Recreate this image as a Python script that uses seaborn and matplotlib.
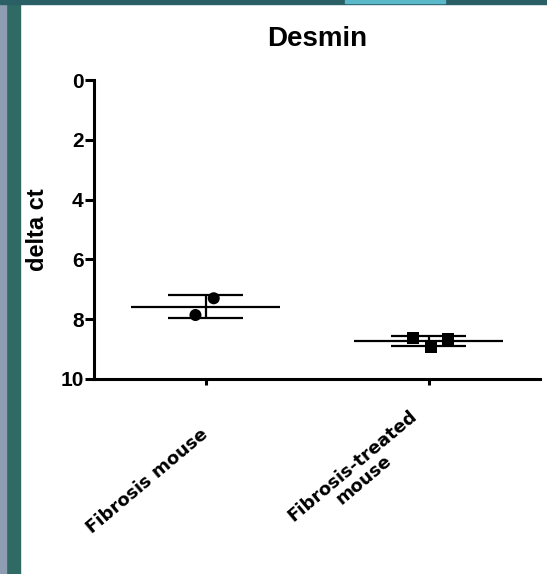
import numpy as np
import pandas as pd
import seaborn as sns
import matplotlib.pyplot as plt
import matplotlib.transforms as mtransforms
from matplotlib.patches import Rectangle

# data
groups = ["Fibrosis mouse", "Fibrosis-treated\nmouse"]
fibrosis_ct = [7.86, 7.30]
treated_ct = [8.62, 8.92, 8.66]
# horizontal scatter of the points inside each column
fibrosis_jitter = [-0.045, 0.037]
treated_jitter = [-0.069, 0.010, 0.089]
yticks = [0, 2, 4, 6, 8, 10]

df = pd.DataFrame({
    "group": [groups[0]] * len(fibrosis_ct) + [groups[1]] * len(treated_ct),
    "delta_ct": fibrosis_ct + treated_ct,
    "jitter": fibrosis_jitter + treated_jitter,
})
df["pos"] = df["group"].map({g: i for i, g in enumerate(groups)}) + df["jitter"]

sns.set_style("ticks")
plt.rcParams["font.family"] = ["Liberation Sans", "DejaVu Sans"]
for key in ["text.color", "axes.labelcolor", "xtick.color", "ytick.color", "axes.edgecolor"]:
    plt.rcParams[key] = "black"

fig = plt.figure(figsize=(5.47, 5.74), dpi=100)

# slide background strips
fig.patches.append(Rectangle((0, 0), 20 / 547, 1, transform=fig.transFigure, color="#2f6a64", zorder=0))
fig.patches.append(Rectangle((0, 0), 6 / 547, 1, transform=fig.transFigure, color="#8e9db2", zorder=0))
fig.patches.append(Rectangle((0, 1 - 4 / 574), 1, 4 / 574, transform=fig.transFigure, color="#2b5f66", zorder=0))
fig.patches.append(Rectangle((345 / 547, 1 - 3 / 574), 100 / 547, 3 / 574, transform=fig.transFigure, color="#5ab8c8", zorder=0))

ax = fig.add_axes([94 / 547, 1 - 379 / 574, 446 / 547, 299 / 574])

sns.scatterplot(data=df, x="pos", y="delta_ct", style="group", markers=["o", "s"],
                color="black", s=75, edgecolor="black", linewidth=0, legend=False, ax=ax, zorder=3)

# mean +/- SD
stats = df.groupby("group", sort=False)["delta_ct"].agg(["mean", "std"])
for i, g in enumerate(groups):
    m, sd = stats.loc[g, "mean"], stats.loc[g, "std"]
    ax.hlines(m, i - 0.334, i + 0.334, color="black", lw=1.6, zorder=2)
    ax.hlines([m - sd, m + sd], i - 0.17, i + 0.17, color="black", lw=1.6, zorder=2)
    ax.vlines(i, m - sd, m + sd, color="black", lw=1.6, zorder=2)

ax.set_xlim(-0.5, 1.5)
ax.set_ylim(10, 0)
ax.set_yticks(yticks)
ax.set_yticklabels([str(t) for t in yticks], fontsize=15, fontweight="bold")
ax.set_xticks(range(len(groups)))
ax.set_xticklabels(groups, rotation=40, ha="right", va="center", rotation_mode="anchor",
                   fontsize=13, fontweight="bold", family=["DejaVu Sans"],
                   multialignment="center", linespacing=1.0)
ax.tick_params(axis="y", length=6.5, width=2.2, pad=1)
ax.tick_params(axis="x", length=4, width=2.2, pad=34)

# the two-line label sits a bit higher and to the left
lab2 = ax.get_xticklabels()[1]
lab2.set_transform(lab2.get_transform() + mtransforms.ScaledTranslation(-0.08, 0.11, fig.dpi_scale_trans))

ax.set_xlabel("")
ax.set_ylabel("delta ct", fontsize=17, fontweight="bold", labelpad=8)
ax.set_title("Desmin", fontsize=20, fontweight="bold", y=1.085)

sns.despine(ax=ax)
for side in ["left", "bottom"]:
    ax.spines[side].set_linewidth(2.2)

fig.savefig("out.png", dpi=100)
